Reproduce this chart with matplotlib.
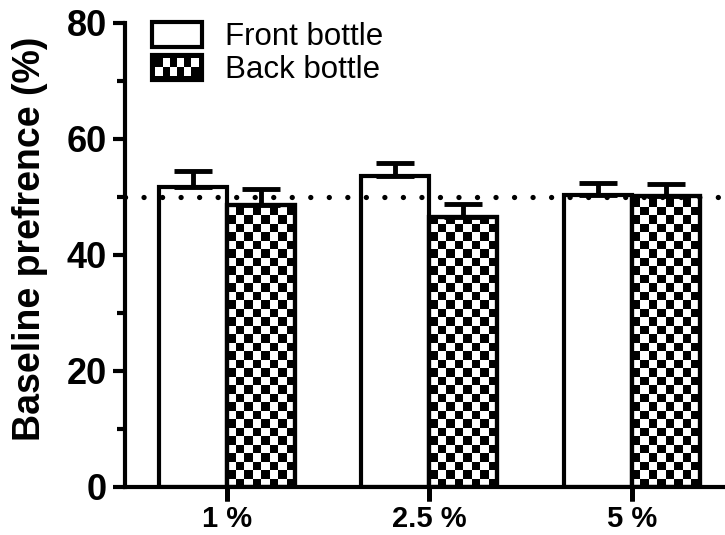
# Baseline preference: front vs back bottle at three concentrations
import numpy as np
import matplotlib.pyplot as plt
from matplotlib.patches import Rectangle, Patch
from matplotlib.collections import PatchCollection
from matplotlib.legend_handler import HandlerBase

plt.rcParams['font.family'] = ['Liberation Sans', 'DejaVu Sans']

groups = ['1 %', '2.5 %', '5 %']
front_mean = [51.8, 53.6, 50.3]
front_err = [2.6, 2.3, 2.1]
back_mean = [48.7, 46.6, 50.2]
back_err = [2.7, 2.2, 2.1]
chance = 50


class CheckerHandler(HandlerBase):
    # legend key drawn as a small black/white checkerboard
    def create_artists(self, legend, orig_handle, xdescent, ydescent,
                       width, height, fontsize, trans):
        x0, y0 = -xdescent, -ydescent
        arts = [Rectangle((x0, y0), width, height, facecolor='black',
                          edgecolor='black', lw=3, transform=trans)]
        ncol, nrow = 6, 2
        pad = 2.5
        cw = (width - 2 * pad) / ncol
        ch = (height - 2 * pad) / nrow
        for r in range(nrow):
            for c in range(ncol):
                if (r + c) % 2 == 0:
                    arts.append(Rectangle((x0 + pad + c * cw, y0 + pad + r * ch), cw, ch,
                                          facecolor='white', lw=0, transform=trans))
        return arts


fig = plt.figure(figsize=(7.25, 5.35), dpi=100)
ax = fig.add_axes([125 / 725, 48 / 535, 600 / 725, 464 / 535])

x = np.arange(len(groups))
w = 0.336
xlim = (-0.504, 2.46)
ylim = (0, 80)
lw = 3

ax.bar(x - w / 2, front_mean, w, color='white', edgecolor='black', linewidth=lw, zorder=2)
back = ax.bar(x + w / 2, back_mean, w, color='white', edgecolor='black', linewidth=lw, zorder=2)

# checkerboard fill for the back bottle bars (black squares clipped to each bar)
cell_px = 8.5
dx = cell_px * (xlim[1] - xlim[0]) / 600
dy = cell_px * (ylim[1] - ylim[0]) / 464
for bar in back:
    bx, bw, bh = bar.get_x(), bar.get_width(), bar.get_height()
    ncols = int(round(bw / dx))
    nrows = int(np.ceil(bh / dy))
    cw = bw / ncols
    cells = [Rectangle((bx + c * cw, r * dy), cw, dy)
             for r in range(nrows) for c in range(ncols) if (r + c) % 2 == 1]
    pc = PatchCollection(cells, facecolor='black', edgecolor='none', zorder=2.2)
    ax.add_collection(pc)
    pc.set_clip_path(bar)
ax.bar(x + w / 2, back_mean, w, fill=False, edgecolor='black', linewidth=lw, zorder=2.5)

zeros = np.zeros(len(groups))
ax.errorbar(x - w / 2, front_mean, yerr=[zeros, front_err], fmt='none', ecolor='black',
            elinewidth=3.5, capsize=14, capthick=3.5, zorder=3)
ax.errorbar(x + w / 2, back_mean, yerr=[zeros, back_err], fmt='none', ecolor='black',
            elinewidth=3.5, capsize=14, capthick=3.5, zorder=3)

ax.axhline(chance, color='black', lw=3.8, ls=(0, (0.01, 3.5)),
           dash_capstyle='round', zorder=4)

ax.set_xlim(*xlim)
ax.set_ylim(*ylim)

for s in ['top', 'right']:
    ax.spines[s].set_visible(False)
for s in ['left', 'bottom']:
    ax.spines[s].set_linewidth(3)

ax.set_yticks([0, 20, 40, 60, 80])
ax.set_yticks([10, 30, 50, 70], minor=True)
ax.set_xticks(x)
ax.set_xticks([], minor=True)
ax.set_xticklabels(groups, fontsize=21, fontweight='bold')
ax.set_yticklabels(['0', '20', '40', '60', '80'], fontsize=26, fontweight='bold')
ax.tick_params(axis='y', which='major', length=9, width=3, pad=4, direction='out')
ax.tick_params(axis='y', which='minor', length=6, width=3, direction='out')
ax.tick_params(axis='x', which='major', bottom=True, length=10, width=3.5, pad=3,
               direction='out', color='black')
ax.xaxis.set_zorder(5)

# the x tick marks did not show up in the saved file, so draw them as short
# lines below the axis at the group positions as well (10 pt long)
tick_len = 10 / 72 * fig.dpi / ax.get_window_extent().height
ax.vlines(x, -tick_len, 0, transform=ax.get_xaxis_transform(), colors='black',
          linewidth=3.5, clip_on=False, zorder=5)

ax.set_ylabel('Baseline prefrence (%)', fontsize=27, fontweight='bold')
ax.yaxis.set_label_coords(-0.128, 0.535)

front_key = Patch(facecolor='white', edgecolor='black', lw=3)
back_key = Patch(facecolor='black', edgecolor='black')
ax.legend([front_key, back_key], ['Front bottle', 'Back bottle'],
          handler_map={back_key: CheckerHandler()},
          loc='upper left', bbox_to_anchor=(0.045, 1.003), frameon=False,
          fontsize=22.5, handlelength=1.6, handleheight=0.85, handletextpad=0.75,
          labelspacing=0.1, borderpad=0, borderaxespad=0)

fig.savefig('out.png', dpi=100)
